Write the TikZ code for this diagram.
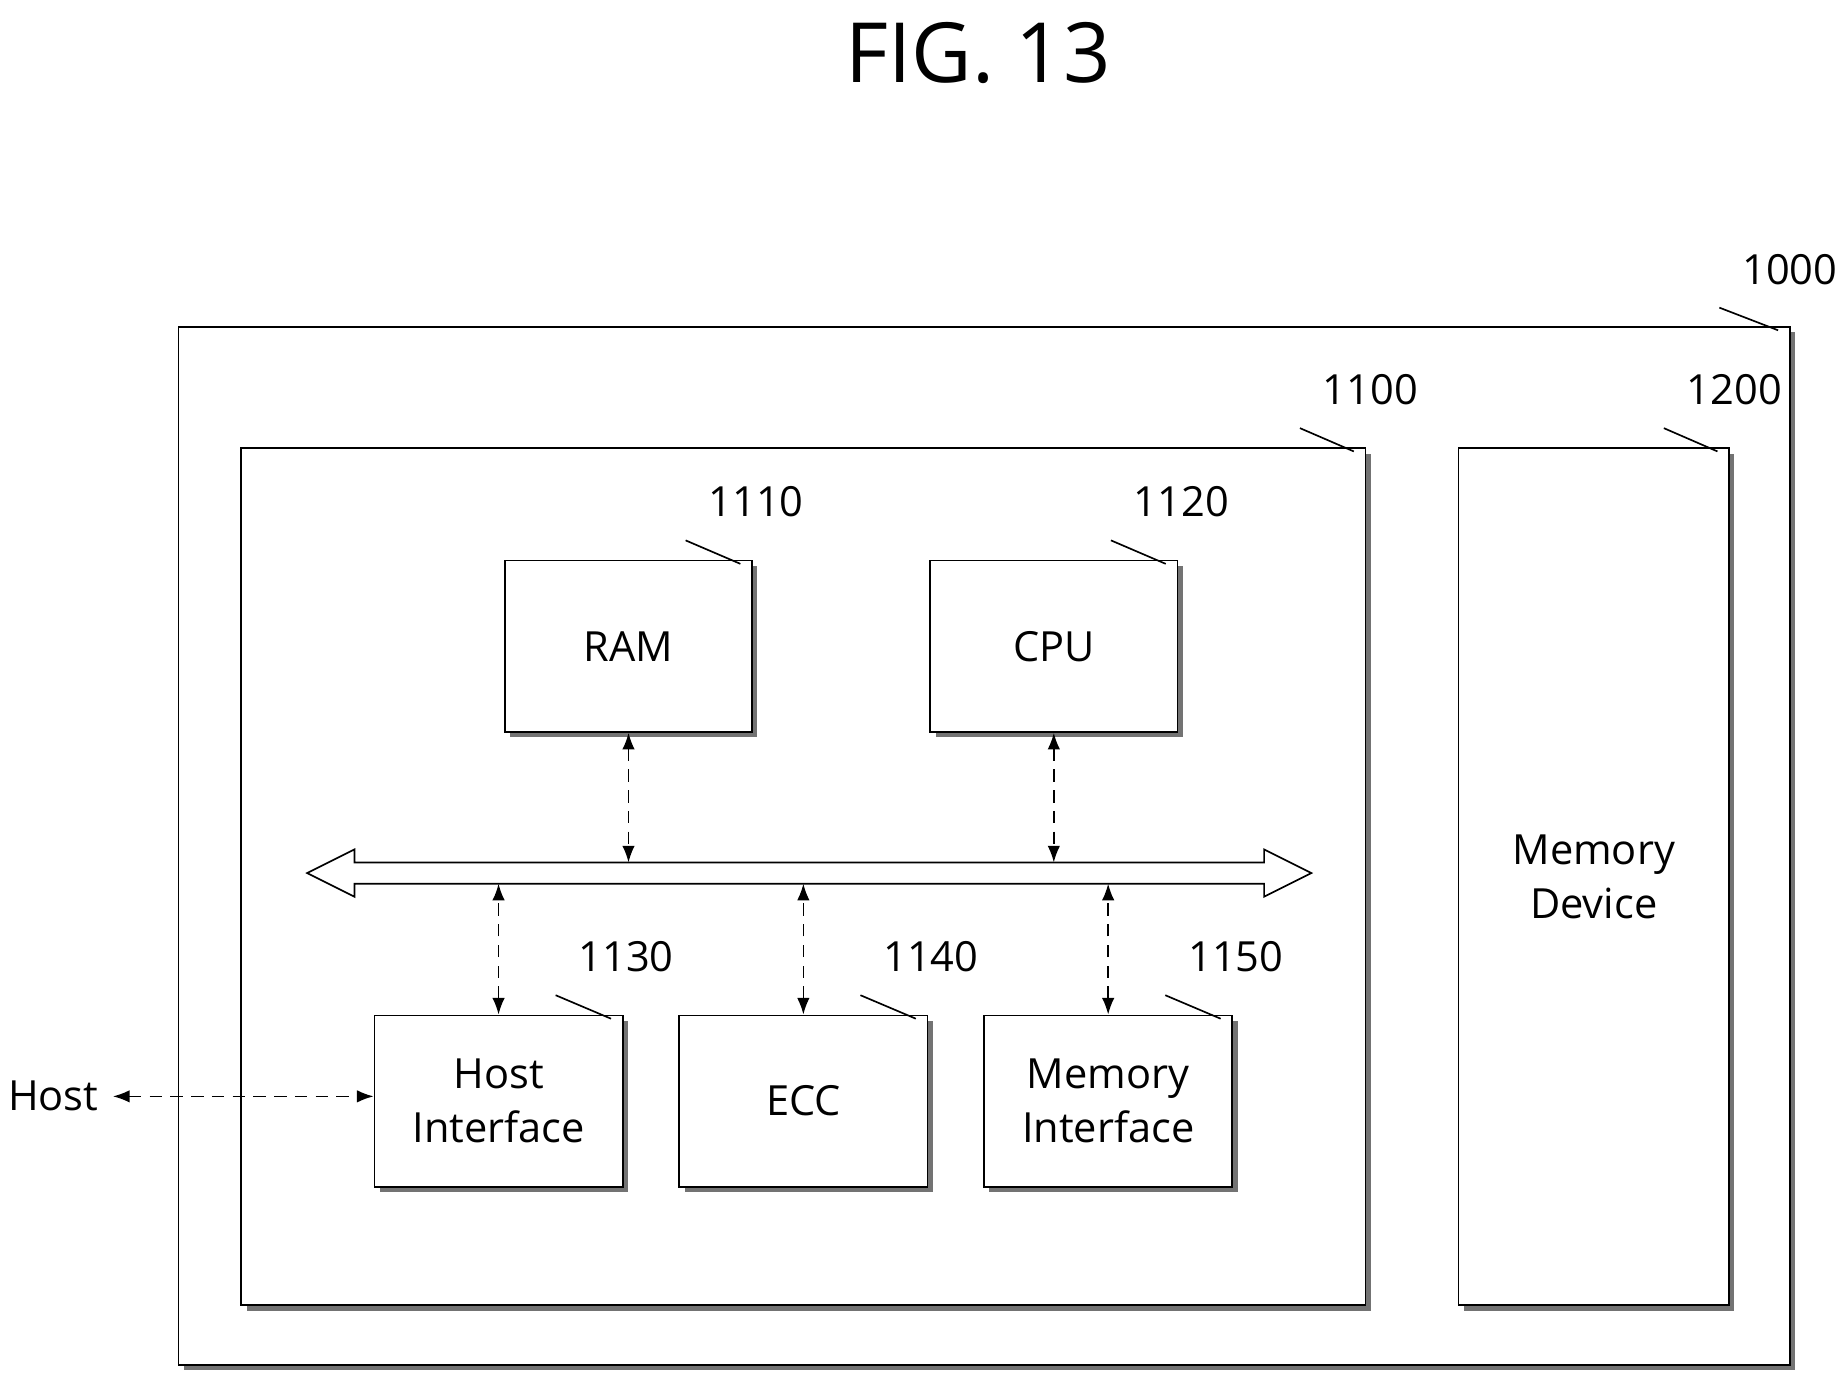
\documentclass[tikz,border=0pt]{standalone}
\usepackage{fontspec}
\setmainfont{Open Sans}
\usetikzlibrary{arrows.meta, positioning, shadows, decorations.pathmorphing}

\tikzset{
  blk/.style={draw, thin, fill=white, font=\fontsize{10}{13}\selectfont, align=center,
    drop shadow={shadow xshift=1.3pt, shadow yshift=-1.3pt, fill=black!55, opacity=1}},
  lead/.style={decorate, decoration={snake, amplitude=1.6pt, segment length=1.05cm}},
  num/.style={font=\fontsize{10}{12}\selectfont},
  link/.style={densely dashed, thin, {Latex[length=4pt,width=3pt]}-{Latex[length=4pt,width=3pt]}}
}

\begin{document}
\begin{tikzpicture}[x=0.01cm, y=-0.01cm]
  \useasboundingbox (0,0) rectangle (1560,1172);
  \node (title) at (828,45) {\fontsize{20}{24}\selectfont FIG. 13};

  % boxes
  \node (sys) [blk, minimum width=13.63cm, minimum height=8.78cm] at (833,716) {};
  \node (ctrl) [blk, minimum width=9.51cm, minimum height=7.25cm] at (680,742) {};
  \node (mem) [blk, minimum width=2.29cm, minimum height=7.25cm] at (1349,742) {Memory\\Device};
  \node (ram) [blk, minimum width=2.09cm, minimum height=1.45cm] at (532,547) {RAM};
  \node (cpu) [blk, minimum width=2.09cm, minimum height=1.45cm] at (892,547) {CPU};
  \node (hif) [blk, minimum width=2.1cm, minimum height=1.45cm] at (422,932) {Host\\Interface};
  \node (ecc) [blk, minimum width=2.1cm, minimum height=1.45cm] at (680,932) {ECC};
  \node (mif) [blk, minimum width=2.1cm, minimum height=1.45cm] at (938,932) {Memory\\Interface};
  \node (host) at (45,928) {\fontsize{10}{12}\selectfont Host};

  % bus
  \coordinate (busT) at (0,730);
  \coordinate (busB) at (0,748);
  \draw[thin] (260,739) -- (300,719) -- (300,730) -- (1070,730) -- (1070,719)
    -- (1110,739) -- (1070,759) -- (1070,748) -- (300,748) -- (300,759) -- cycle;

  % connectors
  \draw[link] (ram.south) -- (ram.south |- busT);
  \draw[link] (cpu.south) -- (cpu.south |- busT);
  \draw[link] (hif.north) -- (hif.north |- busB);
  \draw[link] (ecc.north) -- (ecc.north |- busB);
  \draw[link] (mif.north) -- (mif.north |- busB);
  \draw[link] (host.east) -- (hif.west |- host.east);

  % reference numerals
  \foreach \b/\t/\p in {sys/1000/{(1515,228)}, ctrl/1100/{(1160,330)}, mem/1200/{(1468,330)},
      ram/1110/{(640,425)}, cpu/1120/{(1000,425)}, hif/1130/{(530,810)},
      ecc/1140/{(788,810)}, mif/1150/{(1046,810)}} {
    \node (n\t) [num] at \p {\t};
    \draw[thin, lead] ([xshift=-3pt,yshift=-1pt]\b.north east) -- ([xshift=-2pt,yshift=-2pt]n\t.south west);
  }
\end{tikzpicture}
\end{document}
